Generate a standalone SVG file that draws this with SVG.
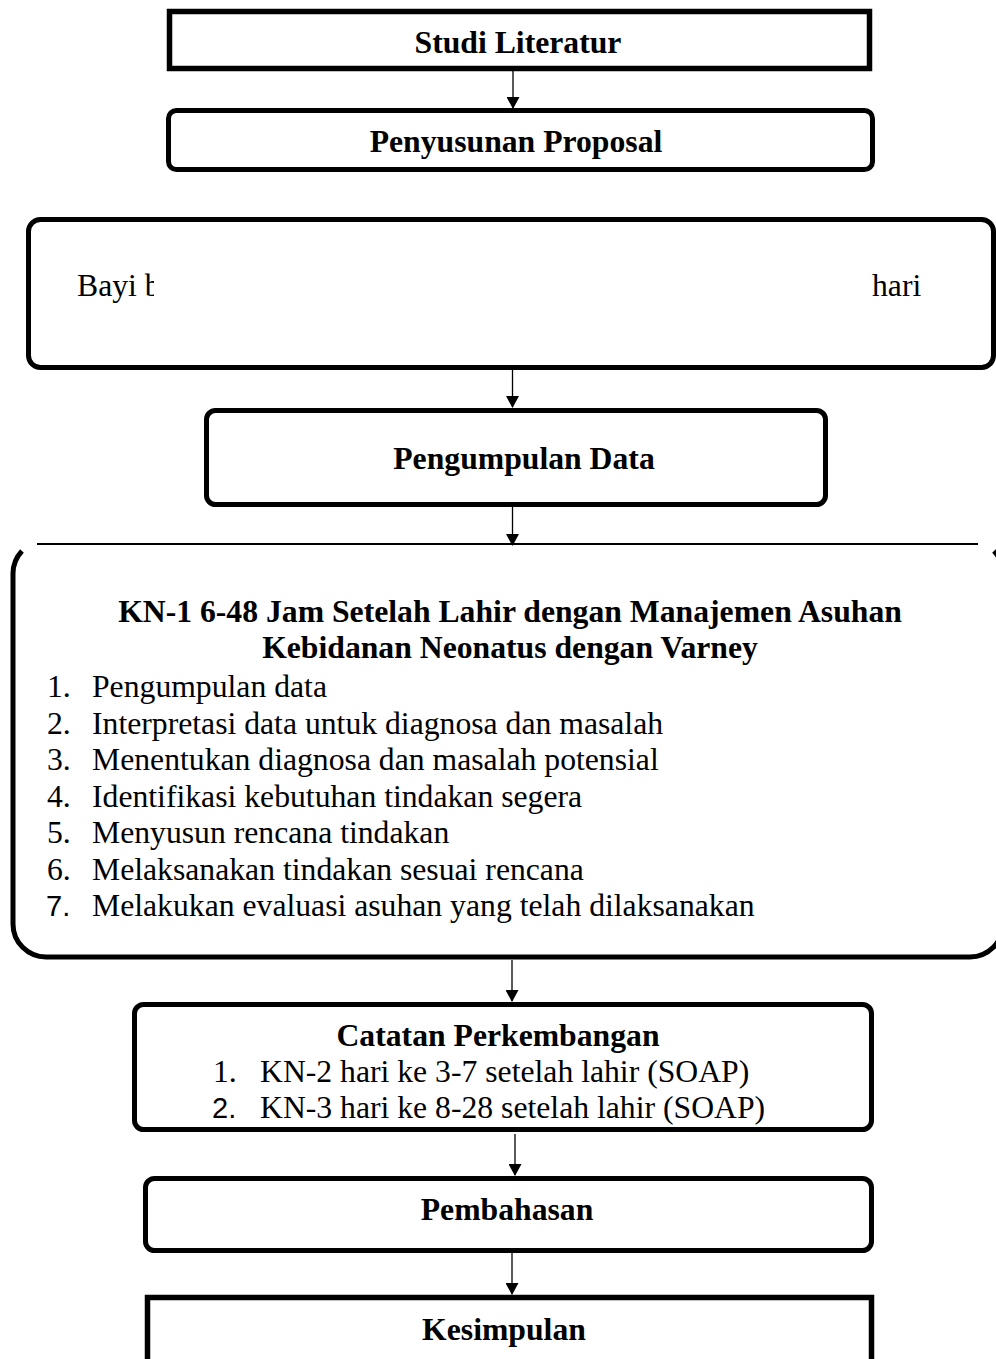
<svg xmlns="http://www.w3.org/2000/svg" width="996" height="1359" viewBox="0 0 996 1359">
<style>
.box{fill:#fff;stroke:#000;stroke-width:5}
.sq{fill:#fff;stroke:#000;stroke-width:5.5;stroke-linejoin:miter}
.b{font-family:"Liberation Serif","Times New Roman",serif;font-weight:bold;font-size:31.7px;fill:#000}
.r{font-family:"Liberation Serif","Times New Roman",serif;font-size:31.7px;fill:#000}
.s{font-family:"Liberation Sans",Arial,sans-serif;font-size:29px;fill:#000}
.c{stroke:#000;stroke-width:1.3;fill:none}
</style>
<defs>
<marker id="ah" markerWidth="12" markerHeight="13" refX="11" refY="6.5" orient="auto" markerUnits="userSpaceOnUse">
<path d="M0,0 L12,6.5 L0,13 Z" fill="#000"/>
</marker>
<clipPath id="clipBayi"><rect x="0" y="200" width="154" height="150"/></clipPath>
</defs>
<g id="connectors">
<line class="c" x1="513" y1="71" x2="513" y2="108" marker-end="url(#ah)"/>
<line class="c" x1="512.5" y1="370" x2="512.5" y2="407" marker-end="url(#ah)"/>
<line class="c" x1="512.5" y1="507" x2="512.5" y2="545" marker-end="url(#ah)"/>
<line class="c" x1="512" y1="960" x2="512" y2="1001" marker-end="url(#ah)"/>
<line class="c" x1="515" y1="1134" x2="515" y2="1175" marker-end="url(#ah)"/>
<line class="c" x1="512" y1="1253" x2="512" y2="1294" marker-end="url(#ah)"/>
</g>
<g id="studi">
<rect class="sq" x="169.5" y="11.5" width="700" height="57"/>
<text class="b" x="518" y="53" text-anchor="middle">Studi Literatur</text>
</g>
<g id="proposal">
<rect class="box" x="168.5" y="110.5" width="704" height="59" rx="8"/>
<text class="b" x="516" y="152" text-anchor="middle">Penyusunan Proposal</text>
</g>
<g id="bayi">
<rect class="box" x="28.5" y="219.5" width="965" height="148" rx="12"/>
<text class="r" x="77" y="296" clip-path="url(#clipBayi)">Bayi b</text>
<text class="r" x="872" y="296">hari</text>
</g>
<g id="pengumpulan">
<rect class="box" x="206.5" y="410.5" width="619" height="94" rx="9"/>
<text class="b" x="524" y="469" text-anchor="middle">Pengumpulan Data</text>
</g>
<g id="kn1">
<line x1="37" y1="544" x2="978" y2="544" stroke="#000" stroke-width="1.8"/>
<path d="M22,551 A33,33 0 0 0 13,574 L13,924 A33,33 0 0 0 46,957 L970,957 A33,33 0 0 0 1003,924 L1003,574 A33,33 0 0 0 994,551" fill="none" stroke="#000" stroke-width="5"/>
<text class="b" x="510" y="622" text-anchor="middle">KN-1 6-48 Jam Setelah Lahir dengan Manajemen Asuhan</text>
<text class="b" x="510" y="658" text-anchor="middle">Kebidanan Neonatus dengan Varney</text>
<text class="r" x="47" y="697">1.</text><text class="r" x="92" y="697">Pengumpulan data</text>
<text class="r" x="47" y="733.5">2.</text><text class="r" x="92" y="733.5">Interpretasi data untuk diagnosa dan masalah</text>
<text class="r" x="47" y="770">3.</text><text class="r" x="92" y="770">Menentukan diagnosa dan masalah potensial</text>
<text class="r" x="47" y="806.5">4.</text><text class="r" x="92" y="806.5">Identifikasi kebutuhan tindakan segera</text>
<text class="r" x="47" y="843">5.</text><text class="r" x="92" y="843">Menyusun rencana tindakan</text>
<text class="r" x="47" y="879.5">6.</text><text class="r" x="92" y="879.5">Melaksanakan tindakan sesuai rencana</text>
<text class="s" x="46" y="916">7.</text><text class="r" x="92" y="916">Melakukan evaluasi asuhan yang telah dilaksanakan</text>
</g>
<g id="catatan">
<rect class="box" x="134.5" y="1004.5" width="737" height="125" rx="9"/>
<text class="b" x="498" y="1046" text-anchor="middle">Catatan Perkembangan</text>
<text class="r" x="213" y="1082">1.</text><text class="r" x="260" y="1082">KN-2 hari ke 3-7 setelah lahir (SOAP)</text>
<text class="s" x="212" y="1118">2.</text><text class="r" x="260" y="1118">KN-3 hari ke 8-28 setelah lahir (SOAP)</text>
</g>
<g id="pembahasan">
<rect class="box" x="145.5" y="1178.5" width="726" height="72" rx="9"/>
<text class="b" x="507" y="1220" text-anchor="middle">Pembahasan</text>
</g>
<g id="kesimpulan">
<rect class="sq" x="147.5" y="1297.5" width="724" height="90"/>
<text class="b" x="504" y="1340" text-anchor="middle">Kesimpulan</text>
</g>
</svg>
